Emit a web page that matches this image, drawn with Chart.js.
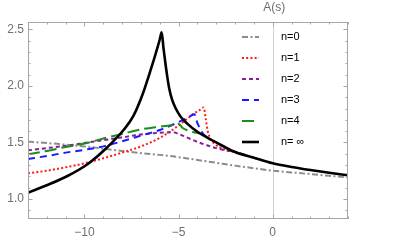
<!DOCTYPE html>
<html>
<head>
<meta charset="utf-8">
<script src="https://cdn.jsdelivr.net/npm/chart.js@4"></script>
<style>
  html, body { margin: 0; padding: 0; background: #fff; }
  #wrap { width: 395px; height: 247px; }
</style>
</head>
<body>
<div id="wrap"><canvas id="chart" width="395" height="247"></canvas></div>
<script>
// series names (legend)
const seriesNames = ["n=0", "n=1", "n=2", "n=3", "n=4", "n= \u221e"];

// n=0
const s0 = [-13, -12, -11, -10, -9, -8, -7, -6, -5, -4, -3, -2, -1, 0, 1, 2, 3, 4];
const a0 = [1.507, 1.495, 1.48, 1.465, 1.445, 1.425, 1.405, 1.39, 1.37, 1.345, 1.32, 1.295, 1.272, 1.25, 1.235, 1.22, 1.205, 1.19];

// n=1
const s1 = [-13, -12, -11, -10, -9, -8, -7, -6, -5, -4.5, -4.1, -3.85, -3.67, -3.55, -3.45, -3.3, -3.1, -2.8, -2.4, -2, -1.5, -1, -0.5];
const a1 = [1.227, 1.25, 1.28, 1.315, 1.36, 1.41, 1.465, 1.54, 1.65, 1.715, 1.765, 1.79, 1.81, 1.7, 1.6, 1.53, 1.49, 1.455, 1.43, 1.415, 1.39, 1.365, 1.34];

// n=2
const s2 = [-13, -12, -11, -10, -9, -8, -7, -6, -5.3, -5, -4.5, -4, -3.5, -3, -2.5, -2, -1.5];
const a2 = [1.43, 1.45, 1.47, 1.495, 1.52, 1.545, 1.57, 1.585, 1.59, 1.575, 1.54, 1.505, 1.475, 1.45, 1.43, 1.418, 1.39];

// n=3
const s3 = [-13, -12, -11, -10, -9, -8, -7, -6, -5, -4.5, -4.16, -4, -3.85, -3.7, -3.5];
const a3 = [1.354, 1.38, 1.41, 1.435, 1.465, 1.51, 1.56, 1.61, 1.68, 1.72, 1.75, 1.67, 1.62, 1.575, 1.545];

// n=4
const s4 = [-13, -12, -11, -10, -9, -8, -7, -6, -5.3, -5, -4.8, -4.5, -4.2, -3.9];
const a4 = [1.395, 1.425, 1.46, 1.49, 1.535, 1.575, 1.615, 1.64, 1.655, 1.665, 1.63, 1.605, 1.59, 1.58];

// n=infinity
const sInf = [-13, -11.9, -10.9, -9.9, -8.9, -7.9, -7.4, -6.9, -6.6, -6.3, -6.1, -6.0, -5.9, -5.8, -5.7, -5.6, -5.5, -5.35, -5.15, -4.9, -4.5, -4, -3.5, -3, -2, -1, 0, 1, 2, 3, 4];
const aInf = [1.055, 1.128, 1.203, 1.30, 1.44, 1.614, 1.734, 1.93, 2.08, 2.239, 2.351, 2.41, 2.475, 2.33, 2.2, 2.08, 1.98, 1.88, 1.8, 1.73, 1.66, 1.595, 1.545, 1.5, 1.415, 1.365, 1.316, 1.283, 1.256, 1.232, 1.21];

// axis ticks
const xTickVals = [-10, -5, 0];
const xTickLabels = ["\u221210", "\u22125", "0"];
const yTickVals = [1.0, 1.5, 2.0, 2.5];
const yTickLabels = ["1.0", "1.5", "2.0", "2.5"];

const FONT = "'Liberation Sans', Arial, sans-serif";

function pts(xs, ys) {
  return xs.map((x, i) => ({ x: x, y: ys[i] }));
}

// series styles, same order as seriesNames
const styles = [
  { color: "#8c8c8c", width: 2, dash: [6, 2.5, 2, 2.5] },
  { color: "#ff1a1a", width: 2, dash: [2, 2.2] },
  { color: "#8a1c96", width: 2, dash: [4, 3] },
  { color: "#1a1aff", width: 2, dash: [7, 5] },
  { color: "#1d8c1d", width: 2, dash: [12, 5] },
  { color: "#000000", width: 2.6, dash: [] },
];
const seriesData = [pts(s0, a0), pts(s1, a1), pts(s2, a2), pts(s3, a3), pts(s4, a4), pts(sInf, aInf)];

const datasets = seriesNames.map((name, i) => ({
  label: name,
  data: seriesData[i],
  borderColor: styles[i].color,
  borderWidth: styles[i].width,
  borderDash: styles[i].dash,
  pointRadius: 0,
  fill: false,
  cubicInterpolationMode: "monotone",
  order: seriesNames.length - i, // later series on top
}));

const framePlugin = {
  id: "frame",
  beforeDatasetsDraw(chart) {
    const { ctx, chartArea: a, scales: { x } } = chart;
    const px = Math.round(x.getPixelForValue(0)) + 0.5;
    ctx.save();
    ctx.strokeStyle = "#d0d0d0";
    ctx.lineWidth = 1;
    ctx.beginPath();
    ctx.moveTo(px, a.top);
    ctx.lineTo(px, a.bottom);
    ctx.stroke();
    ctx.restore();
  },
  afterDraw(chart) {
    const { ctx, chartArea: a, scales: { x, y } } = chart;
    ctx.save();
    ctx.strokeStyle = "#a6a6a6";
    ctx.lineWidth = 1;
    ctx.strokeRect(a.left + 0.5, a.top + 0.5, a.right - a.left - 1, a.bottom - a.top - 1);

    // inward ticks
    ctx.beginPath();
    for (let s = -13; s <= 4; s++) {
      const len = s % 5 === 0 ? 4.5 : 2.5;
      const p = Math.round(x.getPixelForValue(s)) + 0.5;
      ctx.moveTo(p, a.bottom);
      ctx.lineTo(p, a.bottom - len);
      ctx.moveTo(p, a.top);
      ctx.lineTo(p, a.top + len);
    }
    for (let k = 9; k <= 25; k++) {
      const len = k % 5 === 0 ? 4.5 : 2.5;
      const p = Math.round(y.getPixelForValue(k / 10)) + 0.5;
      ctx.moveTo(a.left, p);
      ctx.lineTo(a.left + len, p);
      ctx.moveTo(a.right, p);
      ctx.lineTo(a.right - len, p);
    }
    ctx.stroke();

    // axis label
    ctx.fillStyle = "#6e6e6e";
    ctx.font = "12px " + FONT;
    ctx.textAlign = "center";
    ctx.textBaseline = "middle";
    ctx.fillText("A(s)", x.getPixelForValue(0) + 1.5, 7.5);

    // legend
    ctx.font = "11px " + FONT;
    ctx.textAlign = "left";
    chart.data.datasets.forEach((ds, i) => {
      const yy = 37 + i * 21;
      ctx.save();
      ctx.strokeStyle = ds.borderColor;
      ctx.lineWidth = ds.borderWidth;
      ctx.setLineDash(ds.borderDash);
      ctx.beginPath();
      ctx.moveTo(242, yy);
      ctx.lineTo(259, yy);
      ctx.stroke();
      ctx.restore();
      ctx.fillStyle = "#000";
      ctx.fillText(ds.label, 281, yy);
    });
    ctx.restore();
  },
};

new Chart(document.getElementById("chart"), {
  type: "line",
  data: { datasets: datasets },
  options: {
    responsive: false,
    animation: false,
    layout: { padding: { top: 22, right: 47, left: 0, bottom: 0 } },
    plugins: { legend: { display: false }, tooltip: { enabled: false } },
    scales: {
      x: {
        type: "linear",
        min: -13,
        max: 4,
        grid: { display: false, drawTicks: false },
        border: { display: false },
        afterBuildTicks: (s) => { s.ticks = xTickVals.map((v) => ({ value: v })); },
        afterFit: (s) => { s.height = 28; },
        ticks: {
          autoSkip: false,
          maxRotation: 0,
          padding: 6,
          color: "#6e6e6e",
          font: { family: FONT, size: 12 },
          callback: (v, i) => xTickLabels[i],
        },
      },
      y: {
        type: "linear",
        min: 0.823,
        max: 2.565,
        grid: { display: false, drawTicks: false },
        border: { display: false },
        afterBuildTicks: (s) => { s.ticks = yTickVals.map((v) => ({ value: v })); },
        afterFit: (s) => { s.width = 28; },
        ticks: {
          padding: 4,
          color: "#6e6e6e",
          font: { family: FONT, size: 12 },
          callback: (v, i) => yTickLabels[i],
        },
      },
    },
  },
  plugins: [framePlugin],
});
</script>
</body>
</html>
